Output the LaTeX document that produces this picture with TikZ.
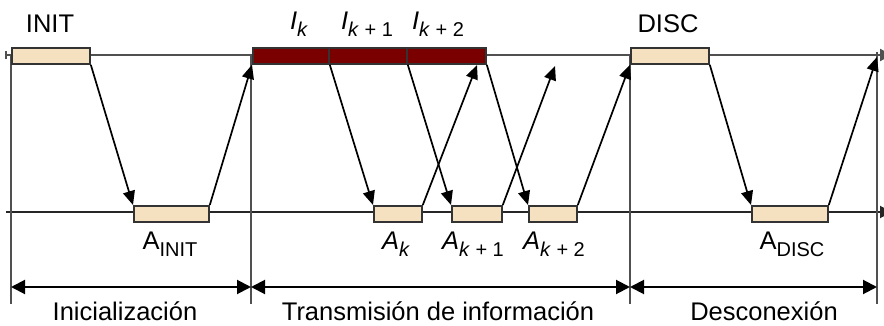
\documentclass[tikz,border=0pt]{standalone}
\usepackage{fontspec}
\setmainfont{Liberation Sans}
\usetikzlibrary{arrows.meta}
\definecolor{beige}{HTML}{F5E0C0}
\definecolor{darkred}{HTML}{7A0000}
\definecolor{linegray}{HTML}{505050}
\newcommand{\sbi}[1]{\raisebox{-0.28em}{\fontsize{20pt}{20pt}\selectfont #1}}
\tikzset{
  lbl/.style={font=\fontsize{25.5pt}{27pt}\selectfont, inner sep=0pt, anchor=center},
  framebox/.style={draw=black!80, line width=1.8pt, minimum height=16pt, inner sep=0pt, anchor=north west},
  ackbox/.style={framebox, fill=beige},
  infobox/.style={framebox, fill=darkred},
  tl/.style={draw=linegray, line width=2.2pt},
  msg/.style={line width=1.7pt, -{Triangle[length=14pt,width=12pt]}},
  span/.style={line width=2pt, {Triangle[length=14pt,width=14pt]}-{Triangle[length=14pt,width=14pt]}}
}
\begin{document}
\begin{tikzpicture}[x=1pt,y=-1pt]
\useasboundingbox (0,0) rectangle (884,326);
% time lines
\coordinate (t0) at (5,55);
\coordinate (t1) at (892,55);
\coordinate (b0) at (6,212);
\coordinate (b1) at (892,212);
\draw[tl, {Bar[width=8pt]}-{Triangle[length=12pt,width=12pt]}] (t0) -- (t1);
\draw[line width=1.9pt, draw=black!85, -{Triangle[length=12pt,width=12pt]}] (b0) -- (b1);
% vertical separators
\coordinate (v1a) at (11,55);  \coordinate (v1b) at (11,304);
\coordinate (v2a) at (251,55); \coordinate (v2b) at (251,304);
\coordinate (v3a) at (630,55); \coordinate (v3b) at (630,304);
\coordinate (v4a) at (877,52); \coordinate (v4b) at (877,304);
\draw[tl] (v1a) -- (v1b);
\draw[tl] (v2a) -- (v2b);
\draw[tl] (v3a) -- (v3b);
\draw[tl] (v4a) -- (v4b);
% top boxes
\node[ackbox, minimum width=78pt] (init) at (11,47) {};
\node[infobox, minimum width=76pt] (ik) at (252,47) {};
\node[infobox, minimum width=78pt] (ik1) at (328,47) {};
\node[infobox, minimum width=79pt] (ik2) at (406,47) {};
\node[ackbox, minimum width=78pt] (disc) at (630,47) {};
% bottom boxes
\node[ackbox, minimum width=75pt] (ainit) at (133,205) {};
\node[ackbox, minimum width=48pt] (ak) at (373,205) {};
\node[ackbox, minimum width=50pt] (ak1) at (451,205) {};
\node[ackbox, minimum width=48pt] (ak2) at (528,205) {};
\node[ackbox, minimum width=76pt] (adisc) at (751,205) {};
% free arrow ends
\coordinate (e1) at (477,65);
\coordinate (e2) at (555,66);
\coordinate (e3) at (877,57);
% messages
\draw[msg] (init.south east) -- (ainit.north west);
\draw[msg] (ainit.north east) -- (ik.south west);
\draw[msg] (ik.south east) -- (ak.north west);
\draw[msg] (ak.north east) -- (e1);
\draw[msg] (ik1.south east) -- (ak1.north west);
\draw[msg] (ak1.north east) -- (e2);
\draw[msg] (ik2.south east) -- (ak2.north west);
\draw[msg] (ak2.north east) -- (disc.south west);
\draw[msg] (disc.south east) -- (adisc.north west);
\draw[msg] (adisc.north east) -- (e3);
% spans
\coordinate (s0) at (11,287);
\coordinate (s1) at (251,287);
\coordinate (s2) at (630,287);
\coordinate (s3) at (877,287);
\draw[span] (s0) -- (s1);
\draw[span] (s1) -- (s2);
\draw[span] (s2) -- (s3);
% labels
\node[lbl] (linit) at (50,24) {INIT};
\node[lbl] (lik) at (299,24) {\textit{I}\sbi{\textit{k}}};
\node[lbl] (lik1) at (367,24) {\textit{I}\sbi{\textit{k} + 1}};
\node[lbl] (lik2) at (438,24) {\textit{I}\sbi{\textit{k} + 2}};
\node[lbl] (ldisc) at (668,24) {DISC};
\node[lbl] (lainit) at (170,244) {A\sbi{INIT}};
\node[lbl] (lak) at (396,244) {\textit{A}\sbi{\textit{k}}};
\node[lbl] (lak1) at (473,244) {\textit{A}\sbi{\textit{k} + 1}};
\node[lbl] (lak2) at (554,244) {\textit{A}\sbi{\textit{k} + 2}};
\node[lbl] (ladisc) at (792,244) {A\sbi{DISC}};
\node[lbl] (p1) at (125,311) {Inicialización};
\node[lbl] (p2) at (438,311) {Transmisión de información};
\node[lbl] (p3) at (764,311) {Desconexión};
\end{tikzpicture}
\end{document}
